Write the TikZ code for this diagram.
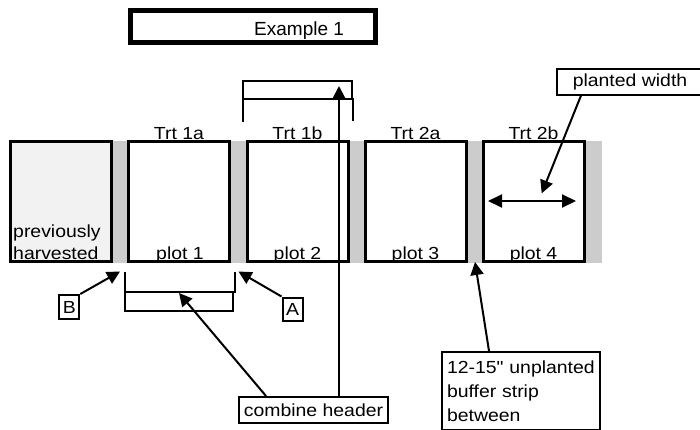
\documentclass[tikz,border=0pt]{standalone}
\usepackage{fontspec}
\setmainfont{Liberation Sans}
\newfontfamily\labfont[FakeStretch=1.11]{Liberation Sans}
\newfontfamily\titlefont{Liberation Sans}
\usetikzlibrary{arrows.meta}
\definecolor{harv}{RGB}{242,242,242}
\definecolor{strip}{RGB}{204,204,204}
\begin{document}
\begin{tikzpicture}[x=1pt,y=-1pt,
  lbl/.style={font={\fontsize{17.5}{24}\labfont}, inner sep=0pt, anchor=base},
  plotbox/.style={draw, line width=3pt, fill=white, minimum width=101pt, minimum height=120pt, inner sep=0pt},
  tagbox/.style={draw, line width=2pt, fill=white, font={\fontsize{17.5}{24}\labfont}, inner sep=0pt},
  arr/.style={line width=2pt, -{Triangle[length=13pt,width=13pt]}},
  bracket/.style={line width=2pt}]
\useasboundingbox (0,0) rectangle (700,429);

% title
\node[draw, line width=5pt, minimum width=245pt, minimum height=32pt, inner sep=0pt] (title) at (252.5,26) {};
\node[font={\fontsize{19}{22}\titlefont}, anchor=base west, inner sep=0pt] (titletext) at (254,35.3) {Example 1};

% buffer strips
\fill[strip] (111,141) rectangle (602,262.5);

% plots
\node[plotbox, fill=harv] (p0) at (60.5,201.6) {};
\node[plotbox] (p1) at (179,201.6) {};
\node[plotbox] (p2) at (297.5,201.6) {};
\node[plotbox] (p3) at (415.5,201.6) {};
\node[plotbox] (p4) at (533.5,201.6) {};

\node[lbl, anchor=base west] (prev1) at (13,237) {previously};
\node[lbl, anchor=base west] (prev2) at (13,259.5) {harvested};
\node[lbl] (n1) at (180,259.5) {plot 1};
\node[lbl] (n2) at (297.5,259.5) {plot 2};
\node[lbl] (n3) at (415.5,259.5) {plot 3};
\node[lbl] (n4) at (533.5,259.5) {plot 4};

\node[lbl] (t1) at (179,139.3) {Trt 1a};
\node[lbl] (t2) at (297.5,139.3) {Trt 1b};
\node[lbl] (t3) at (415.5,139.3) {Trt 2a};
\node[lbl] (t4) at (533.5,139.3) {Trt 2b};

% planted width
\coordinate (pwl) at (488,201);
\coordinate (pwr) at (576,201);
\draw[line width=2pt, {Triangle[length=14pt,width=13pt]}-{Triangle[length=14pt,width=13pt]}] (pwl) -- (pwr);
\node[tagbox, minimum width=146pt, minimum height=25.5pt] (pw) at (630,81.8) {planted width};
\coordinate (pwtip) at (541.7,193.3);
\draw[arr] ([xshift=25pt]pw.south west) -- (pwtip);

% upper header outline
\draw[bracket] (243,81) rectangle (352,99);
\draw[bracket] (243,99) -- (243,122);
\draw[bracket] (352,99) -- (353,99) -- (353,121);

% lower header outline
\draw[bracket] (125,272) -- (125,311) -- (233,311) -- (233,292);
\draw[bracket] (125,292) -- (235,292) -- (235,272);

% combine header
\node[tagbox, minimum width=149pt, minimum height=26pt] (ch) at (313.5,410) {combine header};
\coordinate (hdtip) at (339,86);
\draw[arr] (ch.north -| hdtip) -- (hdtip);
\coordinate (lbtip) at (179,293);
\draw[arr] ([xshift=28pt]ch.north west) -- (lbtip);

% A and B
\node[tagbox, minimum width=20pt, minimum height=23pt] (A) at (292.5,309) {A};
\coordinate (Atip) at (238.5,271.5);
\draw[arr] (A.north west) -- (Atip);
\node[tagbox, minimum width=20pt, minimum height=24pt] (B) at (69.3,307) {B};
\coordinate (Btip) at (120,271.5);
\draw[arr] (B.north east) -- (Btip);

% buffer strip
\node[tagbox, anchor=north west, minimum width=158pt, minimum height=77pt, text width=148pt, align=left, inner xsep=5pt, inner ysep=8.5pt] (buf) at (441,351) {12-15" unplanted\\buffer strip\\between};
\coordinate (buftip) at (475,262);
\draw[arr] ([xshift=48pt]buf.north west) -- (buftip);
\end{tikzpicture}
\end{document}
